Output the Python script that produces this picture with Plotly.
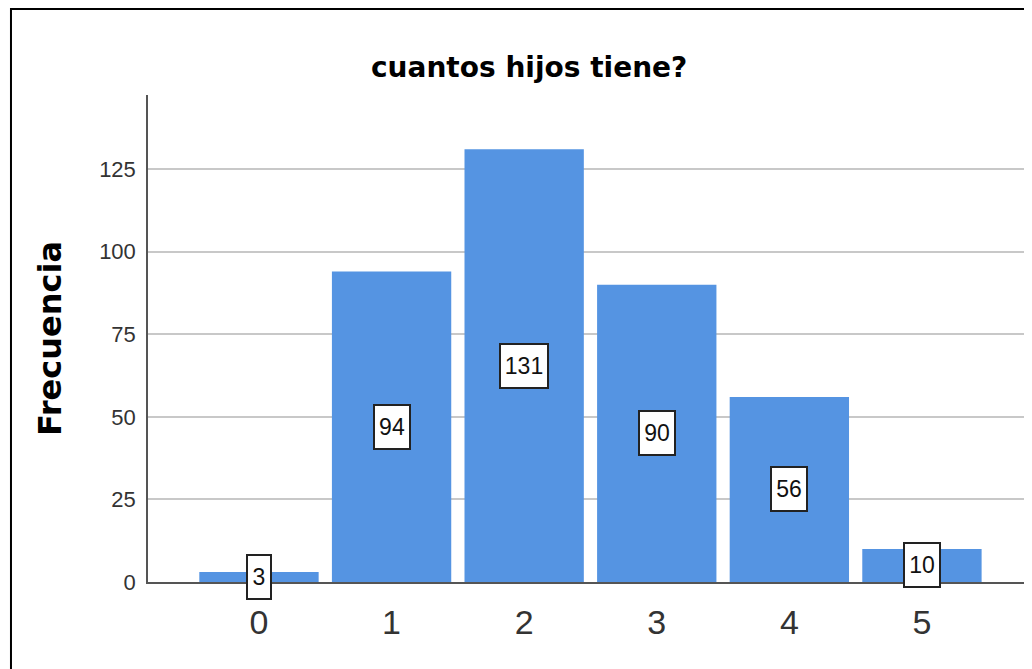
import plotly.graph_objects as go

categories = ["0", "1", "2", "3", "4", "5"]
cat_pos = [0, 1, 2, 3, 4, 5]
frecuencia = [3, 94, 131, 90, 56, 10]
y_ticks = [0, 25, 50, 75, 100, 125]

BAR = "#5594e2"
FONT = "Liberation Sans, Arial, sans-serif"
BOLD = "DejaVu Sans, sans-serif"

fig = go.Figure()
fig.add_trace(go.Bar(
    x=cat_pos, y=frecuencia, width=0.9,
    marker=dict(color=BAR, line=dict(width=0)),
    hoverinfo="skip",
))

for xv, yv in zip(cat_pos, frecuencia):
    txt = str(yv)
    fig.add_annotation(
        x=xv, y=yv / 2, xref="x", yref="y", text=txt, showarrow=False,
        font=dict(family=FONT, size=23, color="#111111"),
        bgcolor="white", bordercolor="#222222", borderwidth=2, borderpad=3,
        height=36, width=12 * len(txt) + 4,
    )

fig.update_layout(
    width=1032, height=669,
    margin=dict(l=140, r=8, t=87, b=95),
    paper_bgcolor="white", plot_bgcolor="white",
    showlegend=False,
    title=dict(text="<b>cuantos hijos tiene?</b>", x=0.505, xanchor="center",
               y=0.912, yanchor="middle",
               font=dict(family=BOLD, size=28, color="#000000")),
    xaxis=dict(
        range=[-0.837, 5.83], tickvals=cat_pos, ticktext=categories,
        showgrid=False, zeroline=False, showline=True, linecolor="#555555", linewidth=1.5,
        ticks="", ticklabelstandoff=9,
        tickfont=dict(family=FONT, size=34, color="#333333"),
        fixedrange=True,
    ),
    yaxis=dict(
        range=[0, 147.4], tickvals=y_ticks,
        showgrid=True, gridcolor="#c8c8c8", gridwidth=1.5,
        zeroline=False, showline=True, linecolor="#555555", linewidth=1.5,
        ticks="", ticklabelstandoff=6,
        tickfont=dict(family=FONT, size=22, color="#333333"),
        title=dict(text="<b>Frecuencia</b>", font=dict(family=BOLD, size=32, color="#000000"), standoff=28),
        fixedrange=True,
    ),
    shapes=[dict(type="rect", xref="paper", yref="paper",
                 x0=-0.155, x1=1.05, y0=-0.3, y1=1.1766,
                 line=dict(color="#000000", width=2), layer="above")],
)

fig.write_html("out.html")
